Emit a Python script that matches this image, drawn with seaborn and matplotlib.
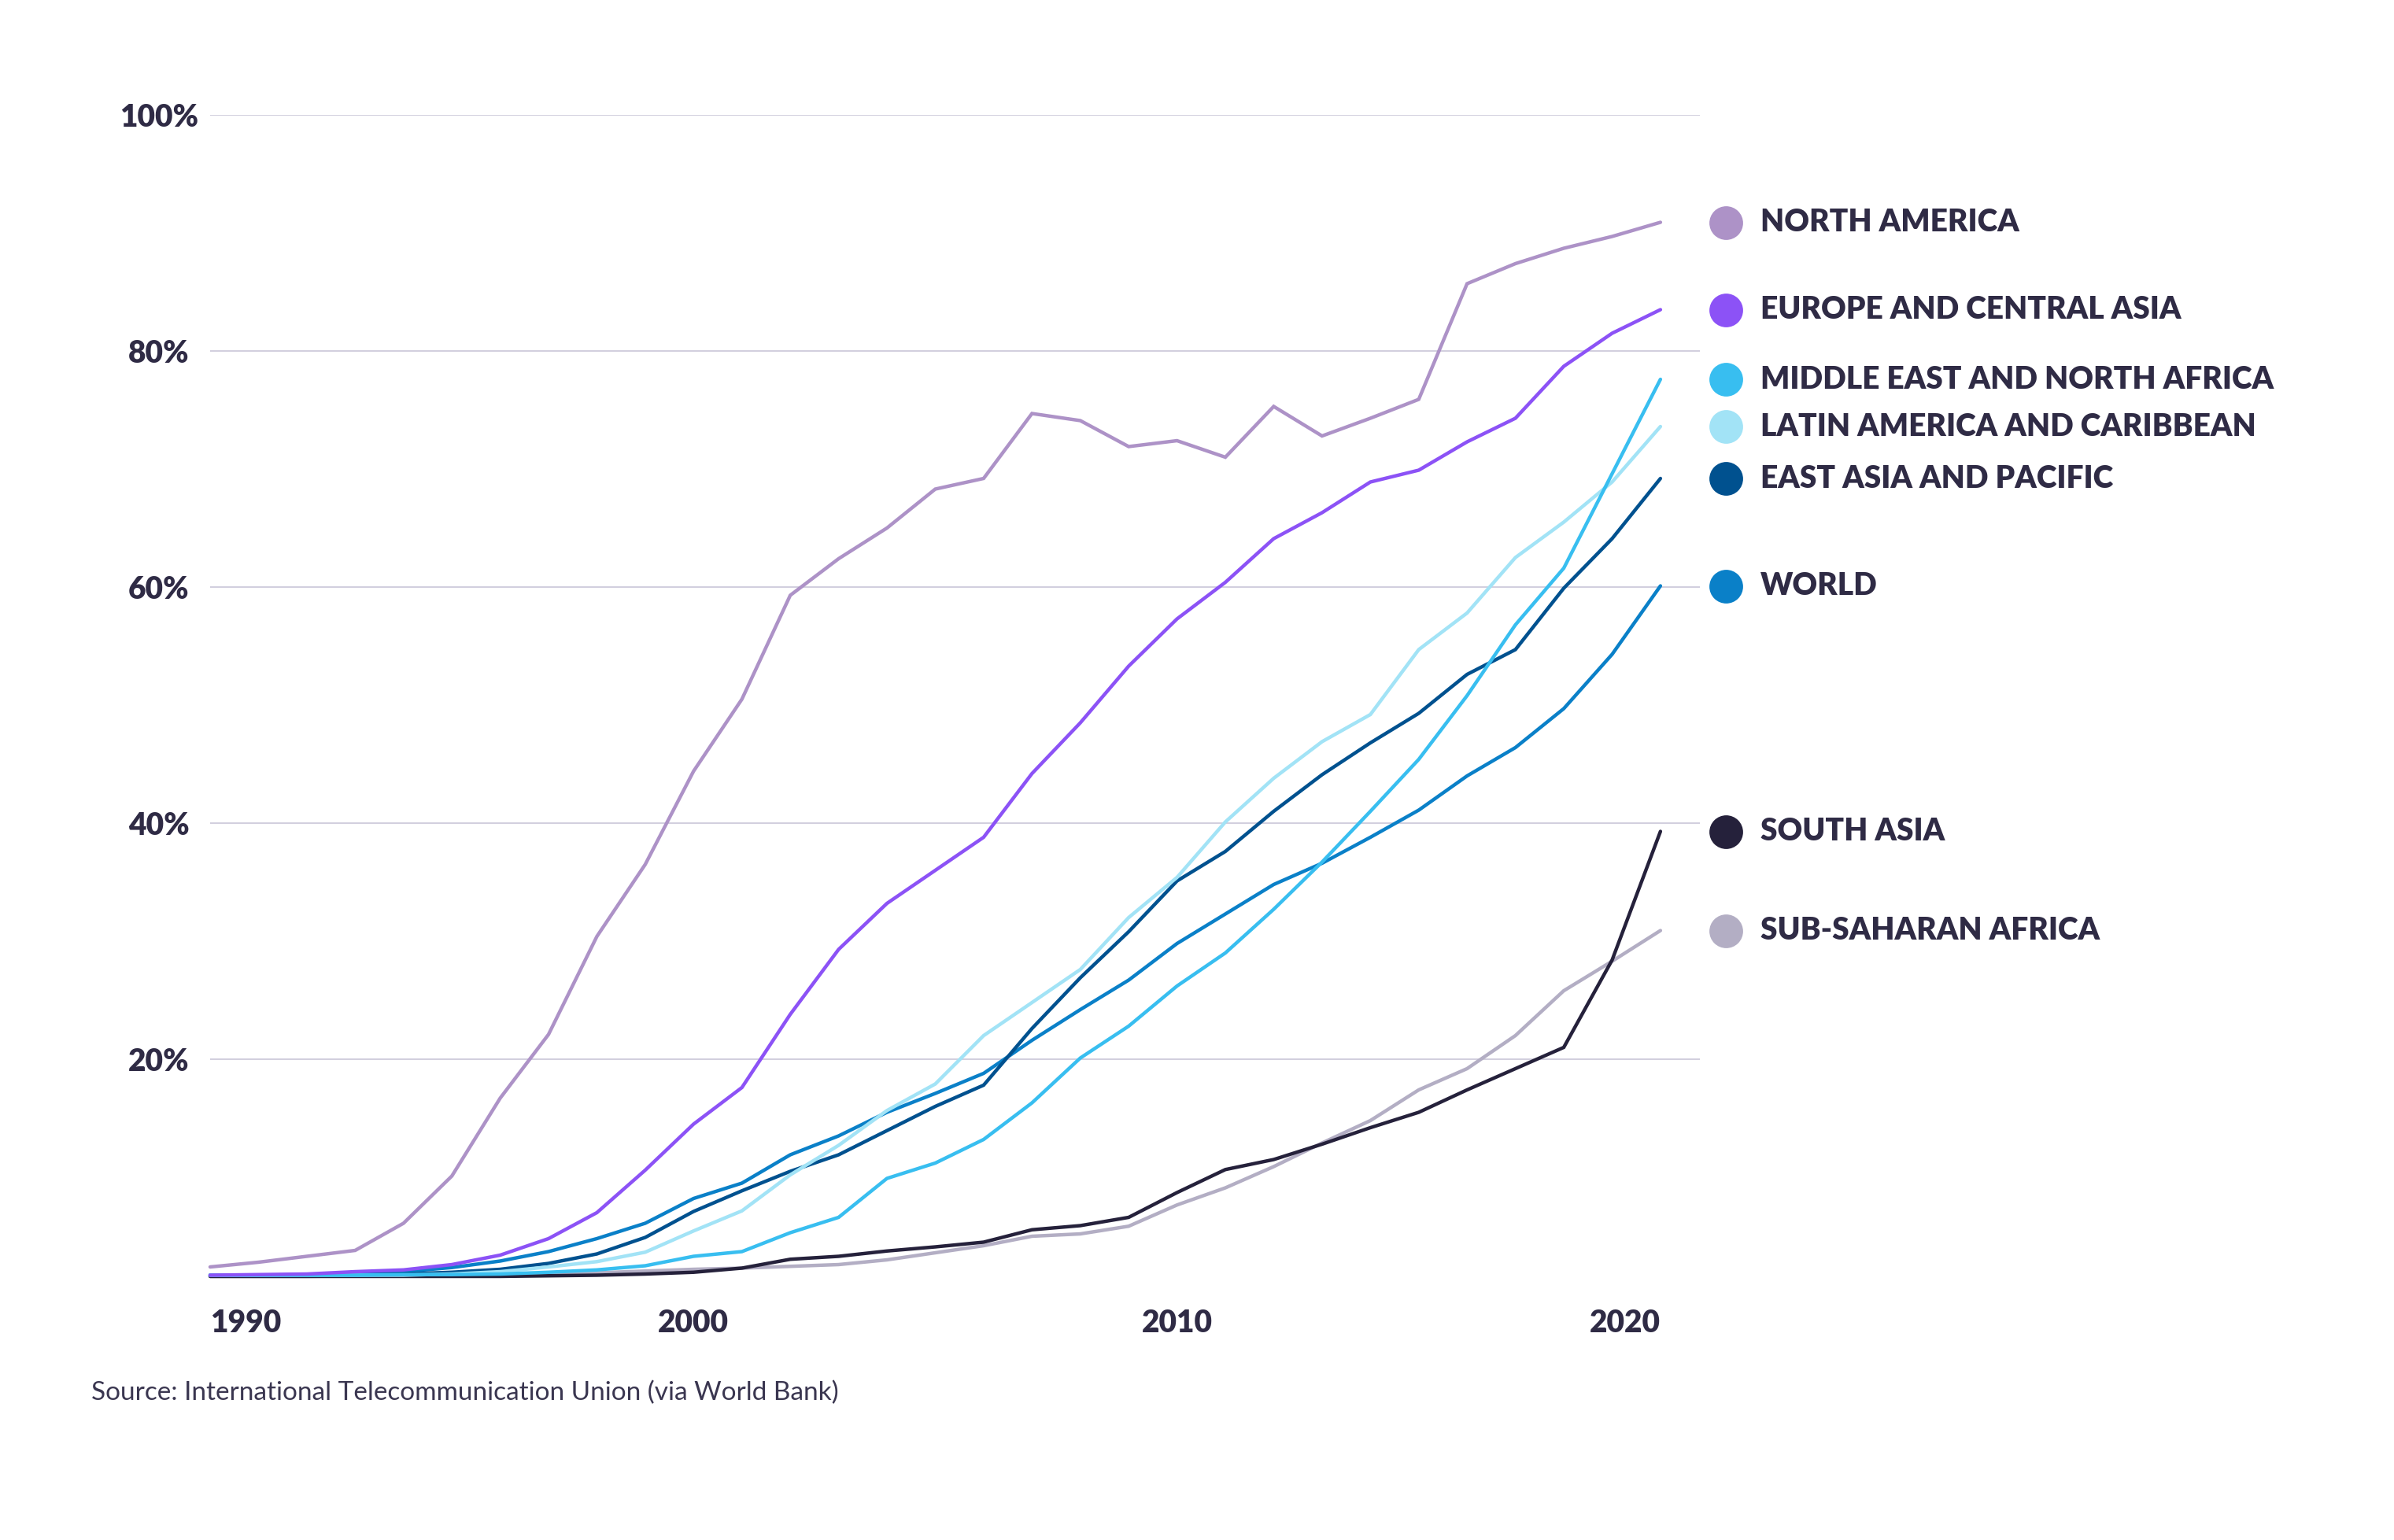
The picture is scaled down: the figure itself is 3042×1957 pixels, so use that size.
import numpy as np
import pandas as pd
import matplotlib
matplotlib.use("Agg")
import matplotlib.pyplot as plt
import matplotlib.transforms as mtransforms
import seaborn as sns

# 인터넷 이용률(%) 1990~2020, 그림에서 읽은 값
years = list(range(1990, 2021))

north_america = [2.4, 2.8, 3.3, 3.8, 6.1, 10.1, 16.7, 22.1, 30.4, 36.5, 44.4, 50.5, 59.3, 62.4, 65.0, 68.3,
                 69.2, 74.7, 74.1, 71.9, 72.4, 71.0, 75.3, 72.8, 74.3, 75.9, 85.7, 87.4, 88.7, 89.7, 90.9]
europe_central_asia = [1.7, 1.75, 1.8, 2.0, 2.15, 2.6, 3.4, 4.8, 7.0, 10.6, 14.5, 17.6, 23.8, 29.3, 33.2, 36.0,
                       38.8, 44.2, 48.5, 53.3, 57.3, 60.4, 64.1, 66.3, 68.9, 69.9, 72.3, 74.3, 78.7, 81.5, 83.5]
middle_east_n_africa = [1.7, 1.7, 1.7, 1.7, 1.75, 1.75, 1.8, 1.95, 2.15, 2.5, 3.3, 3.7, 5.3, 6.6, 9.9, 11.2,
                        13.2, 16.3, 20.1, 22.8, 26.2, 29.0, 32.7, 36.7, 41.0, 45.4, 50.8, 56.8, 61.6, 69.6, 77.6]
latin_america = [1.7, 1.7, 1.7, 1.7, 1.7, 1.8, 2.0, 2.4, 2.85, 3.65, 5.45, 7.15, 10.2, 12.7, 15.65, 17.9,
                 22.0, 24.8, 27.6, 32.0, 35.4, 40.1, 43.8, 46.9, 49.2, 54.7, 57.8, 62.5, 65.5, 68.9, 73.6]
east_asia_pacific = [1.7, 1.7, 1.7, 1.7, 1.8, 1.95, 2.2, 2.7, 3.5, 4.9, 7.1, 8.85, 10.5, 11.9, 13.95, 16.0,
                     17.8, 22.6, 26.9, 30.8, 35.1, 37.6, 41.0, 44.1, 46.8, 49.3, 52.6, 54.7, 59.9, 64.1, 69.2]
world = [1.7, 1.7, 1.75, 1.8, 2.0, 2.35, 2.9, 3.7, 4.8, 6.1, 8.2, 9.5, 11.9, 13.5, 15.5, 17.1,
         18.8, 21.6, 24.2, 26.7, 29.8, 32.3, 34.8, 36.6, 38.8, 41.1, 44.0, 46.4, 49.7, 54.3, 60.1]
south_asia = [1.6, 1.6, 1.6, 1.6, 1.6, 1.6, 1.6, 1.65, 1.7, 1.8, 1.95, 2.3, 3.05, 3.3, 3.75, 4.1,
              4.5, 5.55, 5.9, 6.6, 8.7, 10.65, 11.5, 12.8, 14.2, 15.5, 17.4, 19.2, 21.0, 28.4, 39.3]
sub_saharan_africa = [1.6, 1.6, 1.6, 1.65, 1.7, 1.7, 1.75, 1.8, 1.9, 2.05, 2.2, 2.3, 2.45, 2.6, 3.0, 3.6,
                      4.2, 5.0, 5.2, 5.85, 7.65, 9.1, 10.9, 12.9, 14.8, 17.4, 19.2, 22.0, 25.8, 28.3, 30.9]

regions = ['NORTH AMERICA', 'EUROPE AND CENTRAL ASIA', 'MIDDLE EAST AND NORTH AFRICA',
           'LATIN AMERICA AND CARIBBEAN', 'EAST ASIA AND PACIFIC', 'WORLD',
           'SOUTH ASIA', 'SUB-SAHARAN AFRICA']
series = [north_america, europe_central_asia, middle_east_n_africa, latin_america,
          east_asia_pacific, world, south_asia, sub_saharan_africa]
colors = ['#ad92c7', '#8c52f6', '#38bef0', '#a2e3f6', '#00518f', '#0a80c8', '#25213b', '#b3aec4']

y_ticks = [20, 40, 60, 80, 100]
y_tick_labels = ['20%', '40%', '60%', '80%', '100%']
x_ticks = [1990, 2000, 2010, 2020]
x_tick_labels = ['1990', '2000', '2010', '2020']

# long format 데이터프레임
df = pd.DataFrame({
    'year': years * len(regions),
    'region': [r for r in regions for _ in years],
    'value': [v for s in series for v in s],
})
palette = dict(zip(regions, colors))

sns.set_theme(style='white')
plt.rcParams['font.family'] = ['Lato', 'DejaVu Sans']
text_color = '#2f2b45'

fig = plt.figure(figsize=(30.42, 19.57), dpi=100)
ax = fig.add_axes([267 / 3042, 1 - 1646 / 1957, 1893 / 3042, 1500 / 1957])

sns.lineplot(data=df, x='year', y='value', hue='region', hue_order=regions[::-1],
             palette=palette, linewidth=3.2, legend=False, ax=ax)
for line in ax.lines:
    line.set_clip_on(False)
    line.set_solid_joinstyle('miter')

ax.set_xlim(1990, 1990 + 1893 / 61.43)
ax.set_ylim(0, 100)
ax.set_xlabel('')
ax.set_ylabel('')
sns.despine(ax=ax, left=True, bottom=True)

ax.set_yticks(y_ticks)
ax.set_yticklabels(y_tick_labels)
ax.set_xticks(x_ticks)
ax.set_xticklabels(x_tick_labels)
ax.tick_params(axis='y', length=0, pad=47, labelsize=28, labelcolor=text_color)
ax.tick_params(axis='x', length=0, pad=12, labelsize=28, labelcolor=text_color)
for lab in ax.get_yticklabels():
    lab.set_fontweight('heavy')
    lab.set_horizontalalignment('center')
for lab in ax.get_xticklabels():
    lab.set_fontweight('heavy')
ax.get_xticklabels()[0].set_horizontalalignment('left')
ax.get_xticklabels()[-1].set_horizontalalignment('right')

ax.yaxis.grid(True, color='#cac6d8', linewidth=1.2)
ax.xaxis.grid(False)
ax.set_axisbelow(True)

# 오른쪽 범례 (선 끝 값 높이에 표시)
trans = mtransforms.blended_transform_factory(ax.transAxes, ax.transData)
for name, s, c in zip(regions, series, colors):
    ax.scatter([1.0174], [s[-1]], s=950, color=c, transform=trans, clip_on=False, linewidths=0)
    ax.text(1.0407, s[-1], name, transform=trans, ha='left', va='center',
            fontsize=28, fontweight='heavy', color=text_color)

fig.text(116 / 3042, 1 - 1770 / 1957, 'Source: International Telecommunication Union (via World Bank)',
         ha='left', va='center', fontsize=24, color='#3a3650')

fig.savefig('out.png', dpi=100, facecolor='white')
plt.close()
